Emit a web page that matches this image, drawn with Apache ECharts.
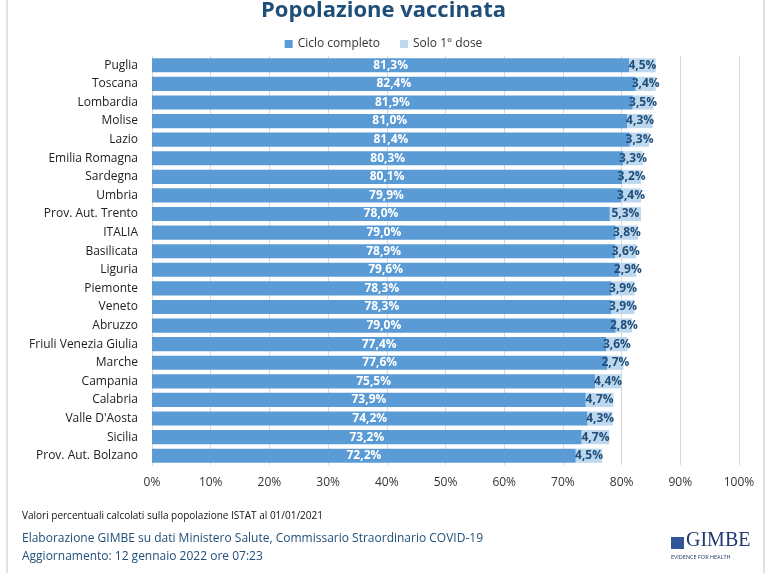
<!DOCTYPE html>
<html>
<head>
<meta charset="utf-8">
<script src="https://cdn.jsdelivr.net/npm/echarts@6/dist/echarts.min.js"></script>
<style>
body { margin: 0; background: #fff; }
#chart { width: 767px; height: 573px; }
</style>
</head>
<body>
<div id="chart"></div>
<script>
// regioni dall'alto in basso
var regioni = ['Puglia', 'Toscana', 'Lombardia', 'Molise', 'Lazio', 'Emilia Romagna', 'Sardegna', 'Umbria',
  'Prov. Aut. Trento', 'ITALIA', 'Basilicata', 'Liguria', 'Piemonte', 'Veneto', 'Abruzzo',
  'Friuli Venezia Giulia', 'Marche', 'Campania', 'Calabria', "Valle D'Aosta", 'Sicilia', 'Prov. Aut. Bolzano'];
var cicloCompleto = [81.3, 82.4, 81.9, 81.0, 81.4, 80.3, 80.1, 79.9, 78.0, 79.0, 78.9, 79.6, 78.3, 78.3, 79.0,
  77.4, 77.6, 75.5, 73.9, 74.2, 73.2, 72.2];
var primaDose = [4.5, 3.4, 3.5, 4.3, 3.3, 3.3, 3.2, 3.4, 5.3, 3.8, 3.6, 2.9, 3.9, 3.9, 2.8,
  3.6, 2.7, 4.4, 4.7, 4.3, 4.7, 4.5];

var font = '"Open Sans", "Noto Sans", sans-serif';
function fmt(p) { return p.value.toFixed(1).replace('.', ',') + '%'; }

var myChart = echarts.init(document.getElementById('chart'));
var option = {
  backgroundColor: '#fff',
  animation: false,
  title: {
    text: 'Popolazione vaccinata',
    left: 'center',
    top: -5,
    textStyle: { color: '#1F4E79', fontSize: 22, fontWeight: 'bold', fontFamily: font }
  },
  legend: {
    top: 33,
    left: 'center',
    itemWidth: 8,
    itemHeight: 8,
    itemGap: 20,
    icon: 'rect',
    textStyle: { color: '#333', fontSize: 12, fontFamily: font },
    data: ['Ciclo completo', 'Solo 1° dose']
  },
  grid: { left: 152, right: 28, top: 56, bottom: 108, containLabel: false },
  xAxis: {
    type: 'value',
    min: 0,
    max: 100,
    interval: 10,
    axisLabel: { formatter: '{value}%', color: '#333', fontSize: 12, fontFamily: font, margin: 12 },
    splitLine: { lineStyle: { color: '#d9d9d9' } },
    axisLine: { show: false },
    axisTick: { show: false }
  },
  yAxis: {
    type: 'category',
    inverse: true,
    data: regioni,
    axisLabel: { color: '#222', fontSize: 12, fontFamily: font, margin: 14 },
    axisLine: { lineStyle: { color: '#d9d9d9' } },
    axisTick: { show: false }
  },
  series: [
    {
      name: 'Ciclo completo',
      type: 'bar',
      stack: 'tot',
      barCategoryGap: '24%',
      data: cicloCompleto,
      itemStyle: { color: '#5B9BD5' },
      label: { show: true, position: 'inside', formatter: fmt, color: '#fff', fontWeight: 'bold', fontSize: 12, fontFamily: font }
    },
    {
      name: 'Solo 1° dose',
      type: 'bar',
      stack: 'tot',
      data: primaDose,
      itemStyle: { color: '#BDD7EE' },
      label: { show: true, position: 'inside', formatter: fmt, color: '#1F4E79', fontWeight: 'bold', fontSize: 12, fontFamily: font }
    }
  ],
  graphic: [
    { type: 'rect', shape: { x: 7, y: -2, width: 757, height: 580 }, style: { fill: 'none', stroke: '#d9d9d9', lineWidth: 1.5 }, silent: true },
    { type: 'text', left: 22, top: 511, style: { text: 'Valori percentuali calcolati sulla popolazione ISTAT al 01/01/2021', fill: '#111', fontSize: 10, fontFamily: font } },
    { type: 'text', left: 22, top: 533, style: { text: 'Elaborazione GIMBE su dati Ministero Salute, Commissario Straordinario COVID-19', fill: '#1F4E79', fontSize: 12, fontFamily: font } },
    { type: 'text', left: 22, top: 551, style: { text: 'Aggiornamento: 12 gennaio 2022 ore 07:23', fill: '#1F4E79', fontSize: 12, fontFamily: font } },
    { type: 'rect', shape: { x: 671, y: 537, width: 13, height: 12 }, style: { fill: '#2F5597' } },
    { type: 'text', left: 686, top: 531, style: { text: 'GIMBE', fill: '#1F3A6E', fontSize: 20, fontFamily: '"Liberation Serif", serif' } },
    { type: 'text', left: 671, top: 554, style: { text: 'EVIDENCE FOR HEALTH', fill: '#1F3A6E', fontSize: 5.5, fontFamily: font } }
  ]
};
myChart.setOption(option);
</script>
</body>
</html>
